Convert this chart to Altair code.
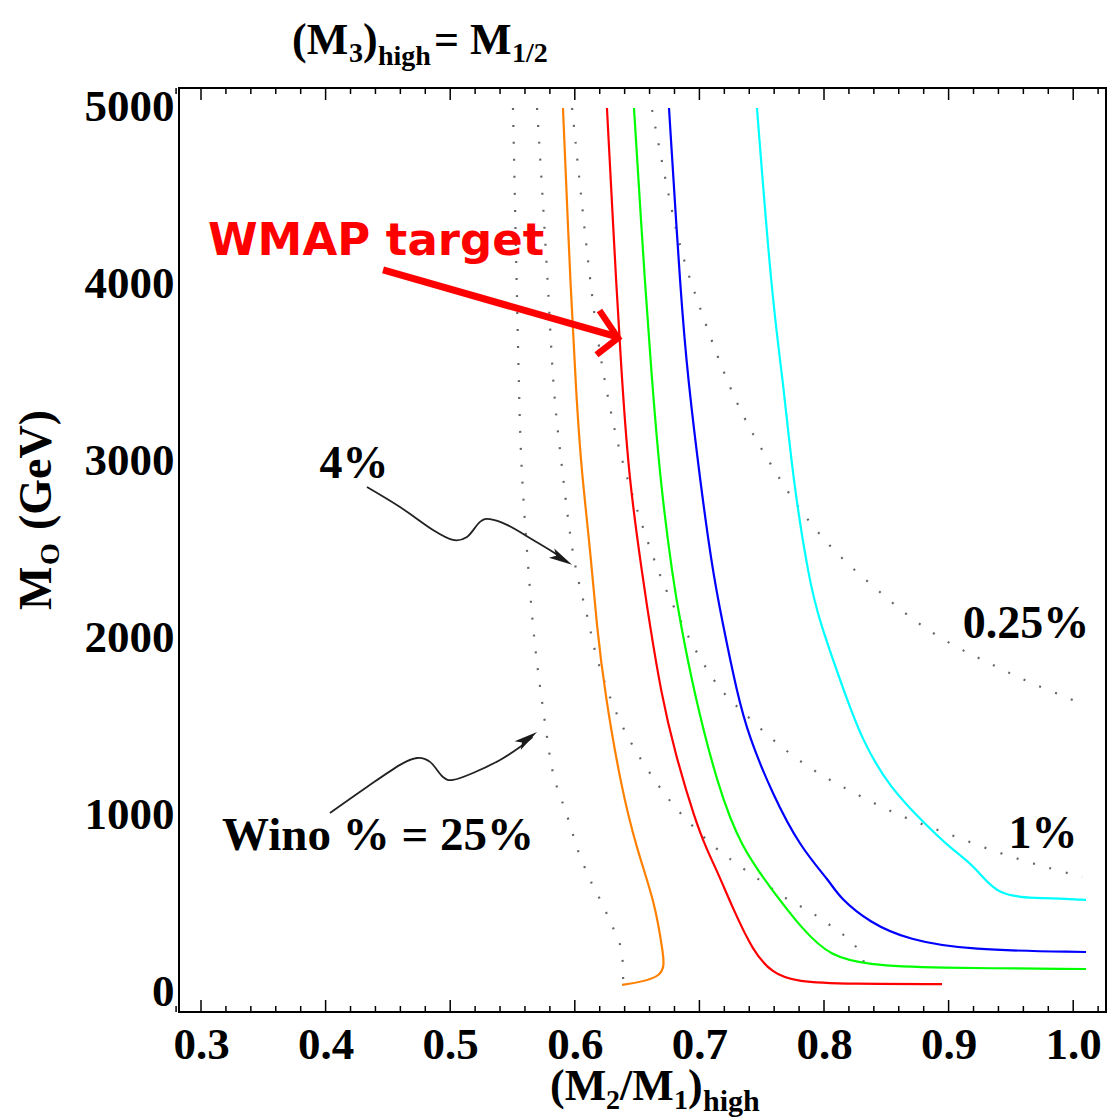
import altair as alt
import pandas as pd

# ---------------- data ----------------
series_names = ["orange", "red", "green", "blue", "cyan"]
series_colors = ["#ff8000", "#ff0000", "#00ff00", "#0000ff", "#00ffff"]

orange_x = [0.5905, 0.5970, 0.6010, 0.6050, 0.6122, 0.6178, 0.6242, 0.6371, 0.6499, 0.6644, 0.6708, 0.6732, 0.6379]
orange_y = [4994, 3910, 3401, 2966, 2514, 2050, 1689, 1158, 802, 503, 220, 79, 40]

red_x = [0.6258, 0.6339, 0.6379, 0.6435, 0.6548, 0.6596, 0.6692, 0.6804, 0.6965, 0.7061, 0.7149, 0.7270, 0.7430, 0.7583, 0.7775, 0.8209, 0.8947]
red_y = [4994, 3910, 3458, 2893, 2328, 2102, 1689, 1350, 972, 802, 672, 470, 230, 107, 56, 45, 45]

green_x = [0.6475, 0.6571, 0.6620, 0.6684, 0.6788, 0.6844, 0.6957, 0.7149, 0.7334, 0.7583, 0.7831, 0.8056, 0.8369, 0.8835, 1.0103]
green_y = [4994, 3910, 3458, 2893, 2328, 2102, 1689, 1158, 819, 576, 350, 198, 153, 136, 130]

blue_x = [0.6756, 0.6852, 0.6909, 0.7005, 0.7101, 0.7181, 0.7302, 0.7398, 0.7583, 0.7807, 0.8056, 0.8120, 0.8369, 0.8682, 0.9148, 1.0103]
blue_y = [4994, 3910, 3458, 2893, 2401, 2102, 1689, 1441, 1124, 819, 616, 537, 390, 294, 237, 226]

cyan_x = [0.7462, 0.7583, 0.7671, 0.7751, 0.7880, 0.7960, 0.8160, 0.8305, 0.8522, 0.8835, 0.9011, 0.9228, 0.9389, 0.9774, 1.0103]
cyan_y = [4994, 3910, 3458, 2893, 2328, 2102, 1700, 1424, 1158, 932, 815, 701, 537, 531, 520]

# dotted wino-fraction contours
level_names = ["25%", "4%", "1%", "0.25%"]
w25_x = [0.5504, 0.5536, 0.5552, 0.5568, 0.5624, 0.5665, 0.5705, 0.5761, 0.5817, 0.5865, 0.5961, 0.6026, 0.6098, 0.6146, 0.6218, 0.6266, 0.6323, 0.6379, 0.6387, 0.6388]
w25_y = [4994, 3910, 3401, 2966, 2412, 2050, 1802, 1520, 1237, 1141, 955, 785, 678, 593, 508, 424, 339, 249, 141, 51]

w4_x = [0.5697, 0.5793, 0.5825, 0.5897, 0.5986, 0.6114, 0.6146, 0.6274, 0.6427, 0.6652, 0.6836, 0.7117, 0.7222, 0.7446, 0.7567, 0.7671, 0.7791, 0.7912, 0.8032, 0.8144, 0.8249, 0.8329, 0.8313]
w4_y = [4994, 3910, 3401, 2966, 2412, 2102, 1949, 1667, 1424, 1181, 1011, 819, 763, 650, 593, 537, 492, 446, 384, 333, 266, 192, 96]

w1_x = [0.5978, 0.6146, 0.6242, 0.6323, 0.6419, 0.6684, 0.6876, 0.6933, 0.7157, 0.7334, 0.7583, 0.7896, 0.8241, 0.8618, 0.8987, 0.9397, 0.9774, 1.0071]
w1_y = [4994, 3836, 3441, 3158, 2893, 2328, 2062, 1972, 1705, 1593, 1424, 1254, 1124, 989, 898, 785, 706, 650]

w025_x = [0.6620, 0.6724, 0.6844, 0.6981, 0.7190, 0.7382, 0.7663, 0.7823, 0.8088, 0.8401, 0.8706, 0.9051, 0.9308, 0.9549, 0.9798, 1.0055]
w025_y = [4983, 4599, 4192, 3910, 3500, 3200, 2876, 2706, 2480, 2288, 2102, 1949, 1865, 1780, 1706, 1633]

x_tick_labels = [0.3, 0.4, 0.5, 0.6, 0.7, 0.8, 0.9, 1.0]
x_minor_ticks = [0.28, 0.32, 0.34, 0.36, 0.38, 0.42, 0.44, 0.46, 0.48, 0.52, 0.54, 0.56, 0.58,
                 0.62, 0.64, 0.66, 0.68, 0.72, 0.74, 0.76, 0.78, 0.82, 0.84, 0.86, 0.88,
                 0.92, 0.94, 0.96, 0.98, 1.02]
y_tick_labels = [0, 1000, 2000, 3000, 4000, 5000]

# annotation arrows (data coordinates)
arrow4_x = [0.4332, 0.4597, 0.4862, 0.5022, 0.5135, 0.5239, 0.5319, 0.5456, 0.5665, 0.5825, 0.5940]
arrow4_y = [2853, 2740, 2610, 2554, 2571, 2656, 2672, 2639, 2554, 2486, 2430]
arrow25_x = [0.4035, 0.4332, 0.4597, 0.4734, 0.4838, 0.4942, 0.5022, 0.5183, 0.5400, 0.5560, 0.5660]
arrow25_y = [1011, 1158, 1283, 1322, 1300, 1215, 1198, 1237, 1311, 1384, 1440]
wmap_x = [0.4461, 0.6320]
wmap_y = [4079, 3705]
wmap_head_x = [0.6198, 0.6347, 0.6174]
wmap_head_y = [3850, 3695, 3600]

# ---------------- layout ----------------
W, H = 927, 924
PAD_L, PAD_T, PAD_R, PAD_B = 179, 88, 5, 105
X_DOMAIN = [0.28234, 1.02632]
Y_DOMAIN = [-113, 5107]
SERIF = "Liberation Serif"

xs = alt.Scale(domain=X_DOMAIN, nice=False, zero=False)
ys = alt.Scale(domain=Y_DOMAIN, nice=False, zero=False)
xaxis = alt.Axis(values=x_tick_labels, format=".1f", title=None, grid=False, ticks=False,
                 domain=False, labelFont=SERIF, labelFontWeight="bold", labelFontSize=45,
                 labelPadding=10, labelColor="black", labelOverlap=False)
yaxis = alt.Axis(values=y_tick_labels, format="d", title=None, grid=False, ticks=False,
                 domain=False, labelFont=SERIF, labelFontWeight="bold", labelFontSize=45,
                 labelPadding=5, labelColor="black", labelOverlap=False)


def X(f):
    return alt.X(f, type="quantitative", scale=xs, axis=xaxis)


def Y(f):
    return alt.Y(f, type="quantitative", scale=ys, axis=yaxis)


def frame(xv, yv, **cols):
    d = {"x": xv, "y": yv, "order": list(range(len(xv)))}
    for k, v in cols.items():
        d[k] = [v] * len(xv)
    return pd.DataFrame(d)


curves = pd.concat([
    frame(orange_x, orange_y, series="orange"),
    frame(red_x, red_y, series="red"),
    frame(green_x, green_y, series="green"),
    frame(blue_x, blue_y, series="blue"),
    frame(cyan_x, cyan_y, series="cyan"),
])
dots = pd.concat([
    frame(w25_x, w25_y, level="25%"),
    frame(w4_x, w4_y, level="4%"),
    frame(w1_x, w1_y, level="1%"),
    frame(w025_x, w025_y, level="0.25%"),
])

color_enc = alt.Color("series:N", scale=alt.Scale(domain=series_names, range=series_colors), legend=None)

dotted = alt.Chart(dots).mark_line(strokeWidth=2.2, strokeDash=[2, 15], color="#666666", clip=True,
                                   interpolate="basis").encode(
    x=X("x"), y=Y("y"), detail="level:N", order="order:Q")

lines = alt.Chart(curves).mark_line(strokeWidth=2.2, clip=True, interpolate="basis").encode(
    x=X("x"), y=Y("y"), color=color_enc, order="order:Q")


def tick_layer(vals, y1, y2):
    return alt.Chart(pd.DataFrame({"x": vals})).mark_rule(color="black", strokeWidth=1.5).encode(
        x=X("x"), y=alt.value(y1), y2=alt.value(y2))


ticks = [tick_layer(x_tick_labels, H, H - 12), tick_layer(x_minor_ticks, H, H - 6),
         tick_layer(x_tick_labels, 0, 12), tick_layer(x_minor_ticks, 0, 6)]


def path(xv, yv, color, width, interp="linear"):
    return alt.Chart(frame(xv, yv)).mark_line(color=color, strokeWidth=width, interpolate=interp,
                                              strokeJoin="miter").encode(x=X("x"), y=Y("y"), order="order:Q")


HEAD = "M0,0L-2,-0.45L-1.55,0L-2,0.45Z"


def head(x, y, angle):
    return alt.Chart(frame([x], [y])).mark_point(shape=HEAD, filled=True, size=560, angle=angle,
                                                 color="#1a1a1a", opacity=1, strokeWidth=0).encode(x=X("x"), y=Y("y"))


def note(text, x, y, size, font=SERIF, color="black", align="center"):
    df = pd.DataFrame({"x": [x], "y": [y], "t": [text]})
    return alt.Chart(df).mark_text(font=font, fontSize=size, fontWeight="bold", color=color,
                                   align=align, baseline="alphabetic").encode(x=X("x"), y=Y("y"), text="t:N")


one = pd.DataFrame({"k": [0]})


def ptext(text, px, py, size, angle=0):
    return alt.Chart(one).mark_text(text=text, font=SERIF, fontSize=size, fontWeight="bold",
                                    align="left", baseline="alphabetic", angle=angle, color="black").encode(
        x=alt.value(px - PAD_L), y=alt.value(py - PAD_T))


annotations = [
    path(arrow4_x, arrow4_y, "#222222", 1.8, "cardinal"),
    head(0.5978, 2413, 30),
    path(arrow25_x, arrow25_y, "#222222", 1.8, "cardinal"),
    head(0.5697, 1469, 325),
    path(wmap_x, wmap_y, "#ff0000", 7),
    path(wmap_head_x, wmap_head_y, "#ff0000", 6.5),
    note("WMAP target", 0.3056, 4164, 45, font="DejaVu Sans", color="#ff0000", align="left"),
    note("4%", 0.4228, 2904, 46),
    note("Wino % = 25%", 0.4421, 802, 47),
    note("0.25%", 0.9621, 2000, 46),
    note("1%", 0.9758, 814, 46),
]

texts = [
    # title (M3)_high = M_1/2
    ptext("(M", 292, 54, 44), ptext("3", 349, 62, 28), ptext(")", 363, 54, 44),
    ptext("high", 378, 65, 28), ptext("=", 434, 54, 44), ptext("M", 470, 54, 44),
    ptext("1/2", 512, 62, 28),
    # x title (M2/M1)_high
    ptext("(M", 550, 1100, 44), ptext("2", 606, 1109, 28), ptext("/M", 620, 1100, 44),
    ptext("1", 674, 1109, 28), ptext(")", 688, 1100, 44), ptext("high", 703, 1111, 30),
    # y title M_O (GeV)
    ptext("M", 51, 610, 46, 270), ptext("O", 59, 565, 28, 270), ptext("(GeV)", 51, 530, 46, 270),
]

chart = alt.layer(dotted, lines, *ticks, *annotations, *texts).properties(
    width=W, height=H,
    autosize=alt.AutoSizeParams(type="none"),
    padding={"left": PAD_L, "top": PAD_T, "right": PAD_R, "bottom": PAD_B},
    background="white",
).configure_view(stroke="black", strokeWidth=2)

chart.save("out.html", embed_options={"renderer": "svg", "actions": False})
